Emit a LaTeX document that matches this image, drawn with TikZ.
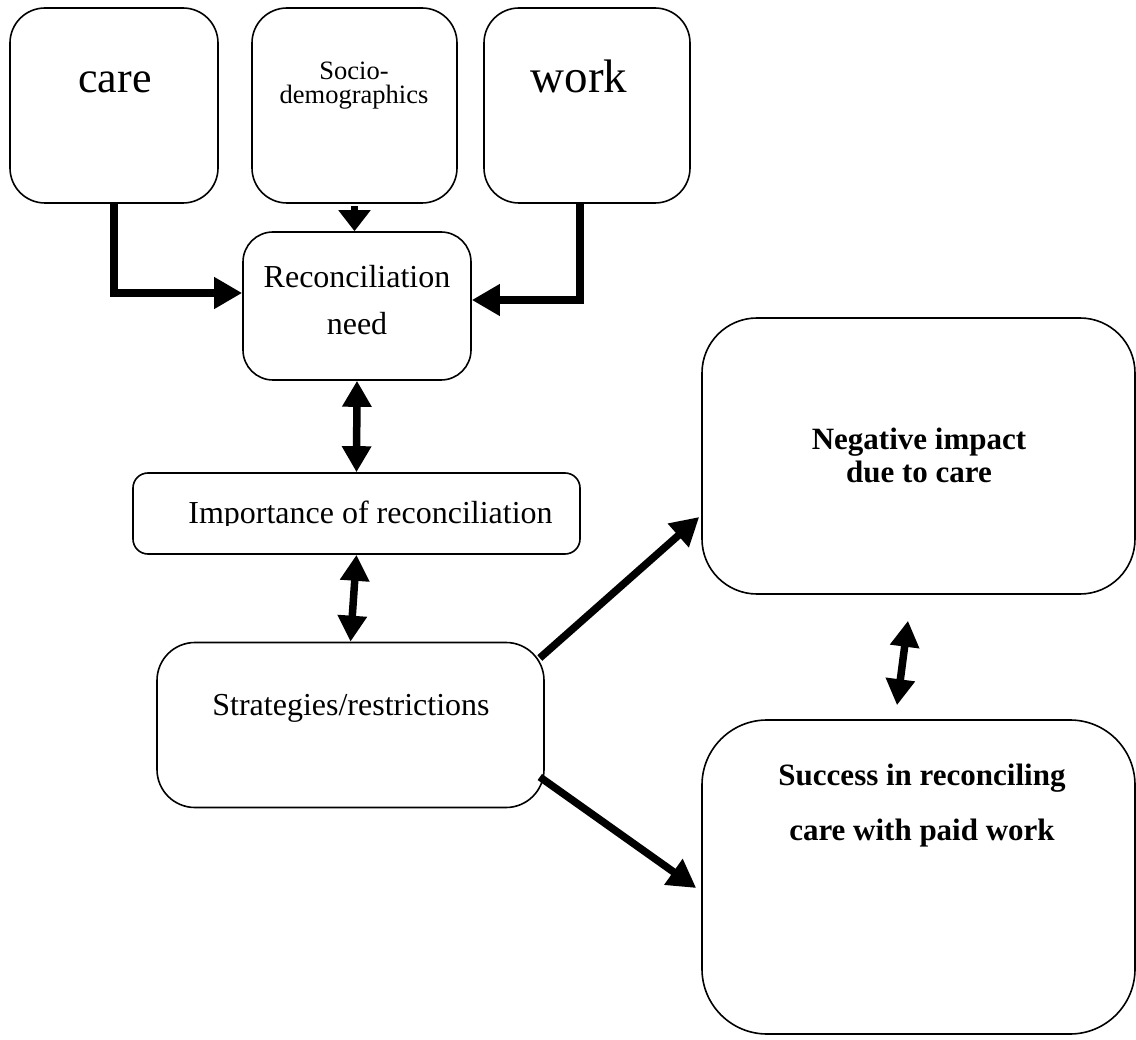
\documentclass[tikz,border=0pt]{standalone}
\usepackage{fontspec}
\setmainfont{Liberation Serif}
\usetikzlibrary{arrows.meta,calc}
\begin{document}
\begin{tikzpicture}[x=1pt,y=-1pt,
  box/.style={draw,line width=1.6pt,inner sep=0pt},
  arr/.style={line width=7.5pt,-{Triangle[width=30pt,length=28pt]}},
  sarr/.style={line width=7.5pt,-{Triangle[width=31pt,length=21pt]}},
  darr/.style={line width=7.5pt,{Triangle[width=28pt,length=26pt]}-{Triangle[width=28pt,length=26pt]}},
  lbl/.style={inner sep=0pt,anchor=base},
  bigfont/.style={font=\fontsize{44}{50}\selectfont},
  workfont/.style={font=\fontsize{47}{52}\selectfont},
  smallfont/.style={font=\fontsize{26.5}{30}\selectfont},
  midfont/.style={font=\fontsize{32}{38}\selectfont},
  boldfont/.style={font=\fontsize{31}{36}\selectfont\bfseries}]
\useasboundingbox (0,0) rectangle (1136,1040);
\fill[white] (0,0) rectangle (1136,1040);

% boxes
\node[box,minimum width=208pt,minimum height=195pt,rounded corners=35pt] (care) at (114,105.5) {};
\node[box,minimum width=205pt,minimum height=195pt,rounded corners=35pt] (socio) at (354.5,105.5) {};
\node[box,minimum width=206pt,minimum height=195pt,rounded corners=35pt] (work) at (587,105.5) {};
\node[box,minimum width=228pt,minimum height=148pt,rounded corners=30pt] (recon) at (357,306) {};
\node[box,minimum width=447pt,minimum height=81pt,rounded corners=15pt] (imp) at (356.5,513.5) {};
\node[box,minimum width=387pt,minimum height=165pt,rounded corners=38pt] (strat) at (350.5,725) {};
\node[box,minimum width=433pt,minimum height=276pt,rounded corners=55pt] (neg) at (918.5,456) {};
\node[box,minimum width=433pt,minimum height=314pt,rounded corners=65pt] (succ) at (918.5,877) {};

% texts
\node[lbl,bigfont] at (115,93) {care};
\node[lbl,smallfont] at (354,80) {Socio-};
\node[lbl,smallfont] at (354,104) {demographics};
\node[lbl,workfont] at (579,93) {work};
\node[lbl,midfont] at (357,288) {Reconciliation};
\node[lbl,midfont] at (357,335) {need};
\begin{scope}
  \clip (135,480) rectangle (578,525.5);
  \node[lbl,midfont] at (370.5,524) {Importance of reconciliation};
\end{scope}
\node[lbl,midfont] at (351,715) {Strategies/restrictions};
\node[lbl,boldfont] at (919,450) {Negative impact};
\node[lbl,boldfont] at (919,483) {due to care};
\node[lbl,boldfont] at (922,785) {Success in reconciling};
\node[lbl,boldfont] at (922,840) {care with paid work};

% connectors
\draw[arr] (care.south) |- ([yshift=13pt]recon.west);
\draw[sarr] ([yshift=-2pt]socio.south) -- (socio.south |- recon.north);
\draw[arr] ([xshift=-7pt]work.south) |- ([yshift=6pt]recon.east);
\draw[darr] (recon.south) -- (imp.north);
\draw[darr] (imp.south) -- (strat.north);
\draw[arr] ([shift={(-5pt,67pt)}]strat.east) -- ([shift={(-2pt,-61pt)}]neg.west);
\draw[arr] ([shift={(-5pt,-52pt)}]strat.east) -- ([shift={(-5pt,-11pt)}]succ.west);
\draw[darr] ([shift={(-10.5pt,-26pt)}]neg.south) -- ([shift={(-21.5pt,14pt)}]succ.north);
\end{tikzpicture}
\end{document}
